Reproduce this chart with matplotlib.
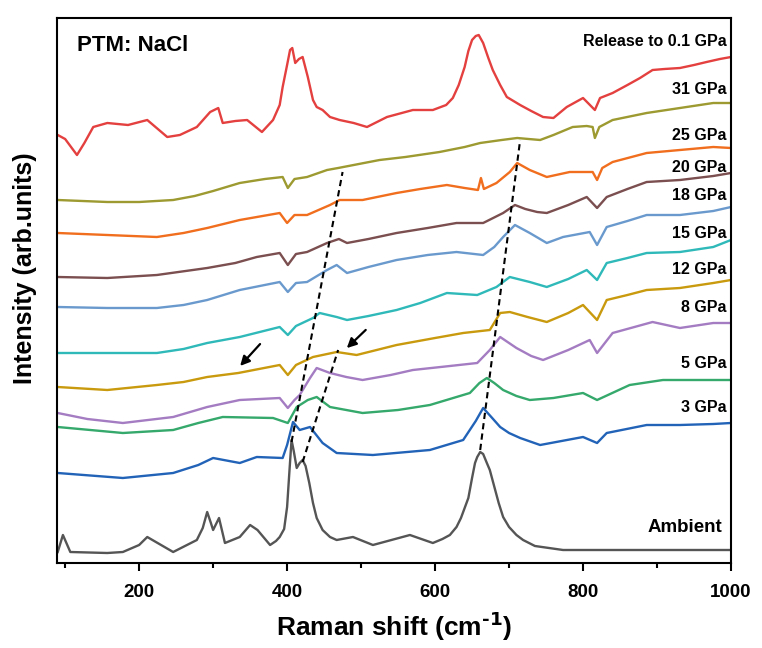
import matplotlib
matplotlib.use("Agg")
import matplotlib.pyplot as plt
from matplotlib.ticker import MultipleLocator

plt.rcParams['font.family'] = ['Liberation Sans', 'DejaVu Sans']
plt.rcParams['font.weight'] = 'bold'

# ---------------- data (Raman shift in cm-1, offset intensity in arb. units) ----------------
x_rel = [90, 100, 116, 126, 138, 157, 185, 211, 238, 255, 278, 296, 307, 313, 330, 346, 366, 381,
         390, 394, 400, 404, 407, 411, 416, 421, 428, 435, 440, 448, 458, 471, 490, 508, 535, 570,
         597, 615, 624, 632, 640, 645, 650, 655, 659, 665, 672, 678, 688, 697, 715, 730, 746, 760,
         778, 800, 816, 823, 840, 860, 877, 894, 910, 931, 950, 967, 985, 1000]
y_rel = [428, 424, 408, 420, 436, 440, 438, 443, 426, 428, 436, 451, 455, 440, 442, 443, 431, 443,
         458, 476, 498, 513, 515, 500, 504, 506, 486, 463, 456, 453, 446, 443, 440, 436, 446, 453,
         453, 458, 465, 478, 496, 512, 523, 527, 528, 520, 505, 493, 478, 466, 458, 452, 446, 445,
         456, 465, 453, 465, 470, 478, 485, 493, 494, 495, 498, 501, 504, 506]

x_31 = [90, 157, 200, 246, 275, 300, 336, 370, 394, 401, 410, 427, 454, 469, 490, 525, 560, 606,
        640, 661, 690, 711, 742, 760, 786, 805, 813, 816, 822, 840, 886, 931, 976, 1000]
y_31 = [363, 361, 361, 363, 367, 372, 380, 384, 386, 375, 384, 386, 393, 395, 398, 403, 406, 411,
        416, 420, 423, 425, 423, 428, 436, 437, 436, 425, 436, 443, 450, 455, 460, 460]

x_25 = [90, 157, 224, 260, 292, 336, 390, 400, 410, 427, 458, 471, 502, 548, 580, 616, 640, 658,
        662, 666, 683, 701, 711, 728, 751, 782, 813, 819, 826, 840, 886, 931, 976, 1000]
y_25 = [330, 328, 326, 330, 335, 343, 350, 340, 348, 348, 358, 363, 363, 370, 374, 378, 375, 373,
        385, 374, 380, 391, 400, 393, 386, 391, 391, 383, 395, 401, 410, 413, 416, 415]

x_20 = [90, 157, 224, 292, 330, 359, 390, 401, 412, 427, 454, 470, 481, 510, 548, 590, 629, 665,
        692, 708, 722, 738, 751, 780, 805, 819, 832, 860, 886, 931, 976, 1000]
y_20 = [286, 285, 288, 295, 300, 306, 310, 298, 309, 311, 320, 324, 320, 324, 330, 335, 340, 340,
        350, 358, 354, 351, 350, 358, 366, 355, 366, 374, 381, 383, 387, 390]

x_18 = [90, 157, 224, 260, 292, 336, 390, 401, 412, 427, 454, 467, 481, 510, 548, 590, 629, 665,
        680, 692, 708, 728, 751, 773, 809, 819, 832, 860, 886, 931, 976, 1000]
y_18 = [256, 255, 255, 258, 263, 273, 281, 271, 280, 281, 293, 298, 290, 296, 303, 308, 311, 308,
        316, 326, 338, 330, 320, 326, 331, 318, 336, 342, 348, 348, 352, 356]

x_15 = [90, 157, 224, 260, 292, 336, 390, 401, 412, 435, 444, 467, 481, 510, 548, 580, 616, 657,
        683, 701, 728, 751, 780, 805, 819, 832, 860, 886, 931, 976, 1000]
y_15 = [210, 210, 210, 214, 220, 226, 236, 228, 237, 245, 250, 246, 243, 247, 253, 260, 270, 268,
        276, 286, 281, 276, 284, 293, 283, 300, 305, 310, 311, 316, 323]

x_12 = [90, 157, 224, 260, 292, 334, 390, 401, 412, 435, 467, 494, 548, 600, 638, 674, 688, 701,
        725, 751, 780, 800, 819, 832, 860, 886, 931, 976, 1000]
y_12 = [176, 173, 178, 181, 186, 190, 198, 188, 198, 206, 211, 208, 218, 225, 230, 233, 250, 251,
        246, 241, 250, 258, 243, 263, 268, 273, 275, 280, 283]

x_8 = [90, 130, 178, 246, 292, 336, 390, 401, 410, 417, 431, 440, 458, 480, 502, 540, 570, 620,
       657, 674, 688, 710, 730, 746, 780, 809, 819, 840, 894, 931, 976, 1000]
y_8 = [150, 144, 140, 146, 156, 163, 165, 155, 163, 168, 185, 195, 190, 186, 183, 188, 193, 197,
       200, 213, 226, 215, 207, 203, 213, 223, 210, 230, 241, 235, 240, 240]

x_5 = [90, 178, 246, 280, 313, 381, 401, 413, 428, 440, 458, 502, 550, 593, 647, 660, 670, 680,
       692, 710, 728, 760, 800, 819, 863, 908, 950, 1000]
y_5 = [136, 130, 133, 140, 146, 145, 140, 156, 163, 166, 156, 150, 153, 158, 170, 180, 185, 180,
       173, 167, 163, 165, 170, 163, 178, 183, 183, 183]

x_3 = [90, 178, 246, 280, 300, 336, 359, 394, 400, 408, 417, 431, 448, 467, 516, 593, 638, 655,
       665, 676, 688, 700, 715, 742, 800, 819, 832, 886, 931, 976, 1000]
y_3 = [90, 85, 90, 98, 105, 100, 106, 105, 118, 141, 133, 136, 120, 110, 108, 113, 123, 142,
       155, 146, 136, 130, 125, 118, 126, 120, 130, 138, 138, 139, 140]

x_amb = [90, 97, 107, 157, 178, 200, 211, 225, 246, 278, 286, 292, 297, 300, 308, 316, 336, 350,
         360, 377, 385, 390, 396, 400, 403, 406, 409, 413, 417, 421, 425, 430, 435, 440, 448, 458,
         467, 489, 516, 566, 597, 610, 620, 629, 635, 640, 645, 650, 654, 657, 661, 665, 670, 674,
         678, 686, 692, 700, 710, 719, 735, 773, 850, 1000]
y_amb = [11, 28, 11, 10, 11, 18, 26, 20, 11, 23, 35, 51, 40, 33, 45, 20, 26, 38,
         33, 18, 22, 26, 34, 56, 90, 123, 112, 95, 100, 103, 97, 80, 60, 45, 33, 26,
         23, 26, 18, 28, 20, 24, 28, 36, 45, 55, 65, 85, 100, 106, 111, 109, 100, 93,
         82, 60, 46, 36, 28, 23, 17, 13, 13, 13]

series_x = [x_amb, x_3, x_5, x_8, x_12, x_15, x_18, x_20, x_25, x_31, x_rel]
series_y = [y_amb, y_3, y_5, y_8, y_12, y_15, y_18, y_20, y_25, y_31, y_rel]
labels = ['Ambient', '3 GPa', '5 GPa', '8 GPa', '12 GPa', '15 GPa', '18 GPa', '20 GPa',
          '25 GPa', '31 GPa', 'Release to 0.1 GPa']
label_y = [35, 155, 200, 255, 293, 330, 368, 396, 427, 473, 522]

# dashed guide lines (peak shift)
guide_x = [[406, 475], [421, 469], [661, 715]]
guide_y = [[121, 391], [101, 213], [113, 423]]
# arrows: tail -> head
arrow_tail = [(366, 221), (509, 235)]
arrow_head = [(334, 195), (478, 213)]

# ---------------- styles ----------------
colors = ['#555555', '#2263b8', '#35a86b', '#a47cc2', '#c99a0e', '#2fb9b9', '#6a9acd',
          '#7b4e4f', '#f06e1e', '#9c9a30', '#e3403f']

fig = plt.figure(figsize=(7.62, 6.48), dpi=100)
ax = fig.add_axes([57/762, 85/648, 674/762, 545/648])

for xs, ys, c in zip(series_x, series_y, colors):
    ax.plot(xs, ys, color=c, lw=1.7, solid_joinstyle='round')

for gx, gy in zip(guide_x, guide_y):
    ax.plot(gx, gy, color='black', lw=1.5, ls=(0, (3, 2)))

for t, h in zip(arrow_tail, arrow_head):
    ax.annotate('', xy=h, xytext=t,
                arrowprops=dict(arrowstyle='-|>', color='black', lw=1.6, mutation_scale=14))

for lab, ly in zip(labels, label_y):
    fs = 13.5 if lab == 'Ambient' else 11.5
    xx = 988 if lab == 'Ambient' else 994
    ax.text(xx, ly, lab, ha='right', va='center', fontsize=fs, fontweight='bold')

ax.text(0.03, 0.95, 'PTM: NaCl', transform=ax.transAxes, ha='left', va='center',
        fontsize=16, fontweight='bold')

ax.set_xlim(89, 1000)
ax.set_ylim(0, 545)
ax.set_yticks([])
ax.xaxis.set_major_locator(MultipleLocator(200))
ax.xaxis.set_minor_locator(MultipleLocator(100))
ax.tick_params(axis='x', which='major', direction='out', length=6, width=1.5,
               labelsize=13.5, pad=9)
ax.tick_params(axis='x', which='minor', direction='out', length=3.5, width=1.5)
for lab in ax.get_xticklabels():
    lab.set_fontweight('bold')
for sp in ax.spines.values():
    sp.set_linewidth(1.5)

ax.set_xlabel('Raman shift (cm$^{\\text{-1}}$)', fontsize=19, fontweight='bold')
ax.xaxis.set_label_coords(0.5, -0.085)
ax.set_ylabel('Intensity (arb.units)', fontsize=18, fontweight='bold')
ax.yaxis.set_label_coords(-0.030, 0.541)

fig.savefig('out.png', dpi=100)
